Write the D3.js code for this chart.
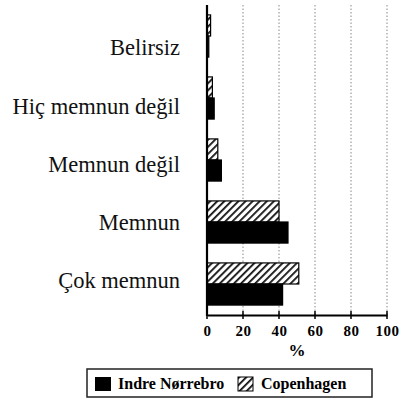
<!DOCTYPE html>
<html><head><meta charset="utf-8">
<script src="https://cdn.jsdelivr.net/npm/d3@7"></script>
<style>body{margin:0;background:#fff}</style>
</head><body>
<script>
const categories = ["Belirsiz", "Hiç memnun değil", "Memnun değil", "Memnun", "Çok memnun"];
const indreNorrebro = [1, 4, 8, 45, 42];
const copenhagen = [2, 3, 6, 40, 51];
const seriesNames = ["Copenhagen", "Indre Nørrebro"];
const xTicks = [0, 20, 40, 60, 80, 100];
const legendNames = ["Indre Nørrebro", "Copenhagen"];

const W = 403, H = 401;
const SERIF = '"Liberation Serif"';
const svg = d3.select("body").append("svg").attr("width", W).attr("height", H);

const defs = svg.append("defs");
const pat = defs.append("pattern").attr("id", "hatch").attr("patternUnits", "userSpaceOnUse")
  .attr("width", 5).attr("height", 5).attr("patternTransform", "rotate(45)");
pat.append("rect").attr("width", 5).attr("height", 5).attr("fill", "#fff");
pat.append("rect").attr("x", 0).attr("width", 1.8).attr("height", 5).attr("fill", "#111");

const x = d3.scaleLinear().domain([0, 100]).range([207, 387]);
const y = d3.scaleBand().domain(categories).range([5, 315]).paddingInner(0.32).paddingOuter(0.16);
const ySub = d3.scaleBand().domain(seriesNames).range([0, y.bandwidth()]);
const yLabel = d3.scalePoint().domain(categories).range([47.5, 280]);

// grid
svg.append("g").selectAll("line").data(xTicks.slice(1)).join("line")
  .attr("x1", d => x(d)).attr("x2", d => x(d)).attr("y1", 5).attr("y2", 315)
  .attr("stroke", "#888").attr("stroke-width", 1).attr("stroke-dasharray", "1.5,2");

// bars
const rows = categories.map((c, i) => ({c, vals: [["Copenhagen", copenhagen[i]], ["Indre Nørrebro", indreNorrebro[i]]]}));
const g = svg.append("g");
rows.forEach(r => {
  r.vals.forEach(([s, v]) => {
    g.append("rect")
      .attr("x", x(0)).attr("y", y(r.c) + ySub(s))
      .attr("width", x(v) - x(0)).attr("height", ySub.bandwidth())
      .attr("fill", s === "Copenhagen" ? "url(#hatch)" : "#000")
      .attr("stroke", "#000").attr("stroke-width", 1.2);
  });
});

// axes
const xAxis = d3.axisBottom(x).tickValues(xTicks).tickSize(0).tickPadding(10);
const ax = svg.append("g").attr("transform", "translate(0,315)").call(xAxis);
ax.select(".domain").attr("stroke", "#000").attr("stroke-width", 2);
ax.selectAll(".tick text").style("font-family", SERIF).style("font-weight", "bold")
  .style("font-size", "15px").attr("fill", "#000").attr("letter-spacing", 0.5);
svg.append("g").selectAll("line.tk").data(xTicks).join("line")
  .attr("x1", d => x(d)).attr("x2", d => x(d)).attr("y1", 311).attr("y2", 319)
  .attr("stroke", "#000").attr("stroke-width", 1.5);

svg.append("line").attr("x1", x(0)).attr("x2", x(0)).attr("y1", 5).attr("y2", 316)
  .attr("stroke", "#000").attr("stroke-width", 2.2);

svg.append("text").attr("x", 297).attr("y", 356).attr("text-anchor", "middle")
  .style("font-family", SERIF).style("font-weight", "bold").style("font-size", "17px").text("%");

// category labels
svg.append("g").selectAll("text").data(categories).join("text")
  .attr("x", 180).attr("y", d => yLabel(d)).attr("dy", "0.35em").attr("text-anchor", "end")
  .style("font-family", SERIF).style("font-size", "22.5px").attr("fill", "#111").text(d => d);

// legend
const lg = svg.append("g");
lg.append("rect").attr("x", 87).attr("y", 369).attr("width", 285).attr("height", 28)
  .attr("fill", "#fff").attr("stroke", "#222").attr("stroke-width", 1.5);
lg.append("rect").attr("x", 95).attr("y", 377).attr("width", 16).attr("height", 14).attr("fill", "#000");
lg.append("text").attr("x", 118).attr("y", 389).style("font-family", SERIF)
  .style("font-weight", "bold").style("font-size", "16px").text(legendNames[0]);
lg.append("rect").attr("x", 238).attr("y", 377).attr("width", 15).attr("height", 14)
  .attr("fill", "url(#hatch)").attr("stroke", "#000").attr("stroke-width", 1);
lg.append("text").attr("x", 261).attr("y", 389).style("font-family", SERIF)
  .style("font-weight", "bold").style("font-size", "16px").text(legendNames[1]);
</script>
</body></html>
